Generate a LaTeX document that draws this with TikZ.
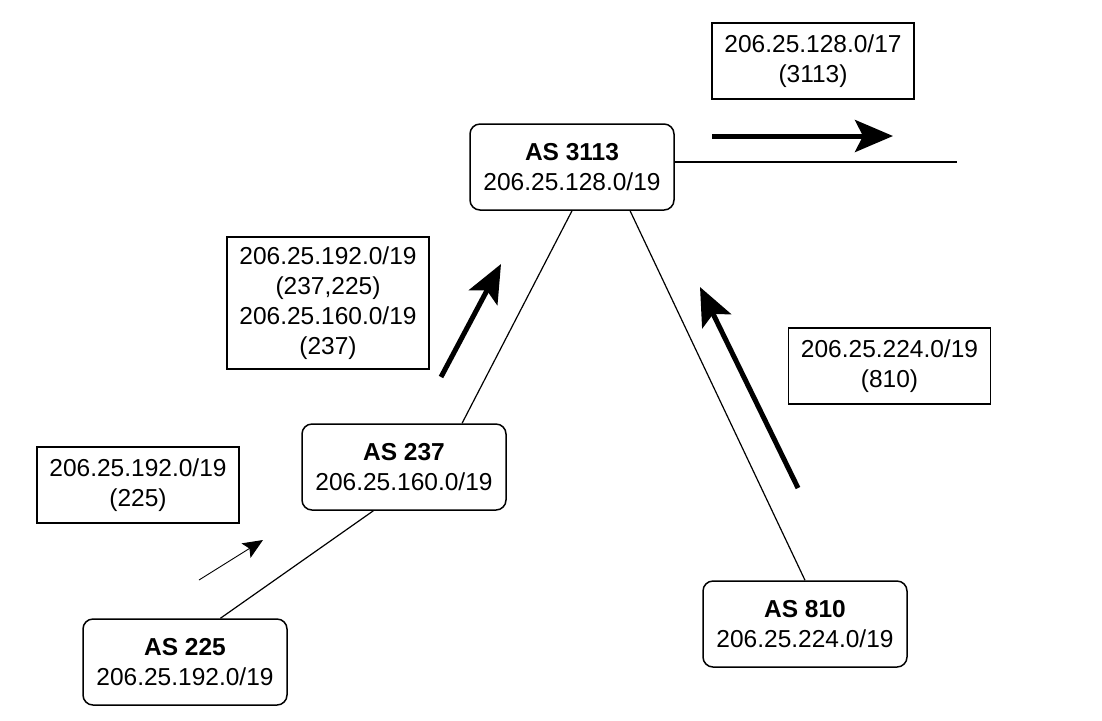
\documentclass[tikz,border=0pt]{standalone}
\usepackage{fontspec}
\setmainfont{Liberation Sans}
\usetikzlibrary{arrows.meta}

\tikzset{
  asbox/.style={draw, line width=0.75pt, rounded corners=5pt, align=center,
    minimum width=102pt, minimum height=43pt, inner sep=0pt},
  prefixbox/.style={draw, line width=0.75pt, align=center,
    minimum width=101pt, minimum height=38pt, inner sep=0pt},
  link/.style={line width=0.6pt},
  advert/.style={line width=2.5pt, -{Stealth[length=19pt,width=16pt,inset=4pt]}},
  smalladvert/.style={line width=0.45pt, -{Stealth[length=10pt,width=8.5pt,inset=2pt]}}
}

\begin{document}
\begin{tikzpicture}[x=0.5pt, y=-0.5pt, font=\fontsize{12.25}{15}\selectfont]
            \useasboundingbox (0,0) rectangle (1102,720);

            % AS boxes
            \node[asbox] (as3113) at (572,167) {\textbf{AS 3113}\\206.25.128.0/19};
            \node[asbox] (as237) at (404,467) {\textbf{AS 237}\\206.25.160.0/19};
            \node[asbox] (as225) at (185,662) {\textbf{AS 225}\\206.25.192.0/19};
            \node[asbox] (as810) at (805,624) {\textbf{AS 810}\\206.25.224.0/19};

            % Advertised prefixes
            \node[prefixbox] (adv3113) at (813,61) {206.25.128.0/17\\(3113)};
            \node[prefixbox, minimum height=66pt] (adv237) at (328,303) {206.25.192.0/19\\(237,225)\\206.25.160.0/19\\(237)};
            \node[prefixbox] (adv225) at (138,485) {206.25.192.0/19\\(225)};
            \node[prefixbox] (adv810) at (889.5,366) {206.25.224.0/19\\(810)};

            % Links
            \coordinate (upstream) at (957,162);
            \draw[link] (as3113.east |- upstream) -- (upstream);
            \draw[link] (as3113.south) -- (as237.37);
            \draw[link] (as3113.-37) -- (as810.north);
            \draw[link] (as237.235) -- (as225.51);

            % Direction of announcements
            \coordinate (a1) at (199,580);
            \coordinate (a2) at (263,540);
            \coordinate (b1) at (441,377);
            \coordinate (b2) at (501,264);
            \coordinate (c1) at (798,488);
            \coordinate (c2) at (700,287);
            \coordinate (d1) at (712,136);
            \coordinate (d2) at (893,136);
            \draw[smalladvert] (a1) -- (a2);
            \draw[advert] (b1) -- (b2);
            \draw[advert] (c1) -- (c2);
            \draw[advert] (d1) -- (d2);
        \end{tikzpicture}
\end{document}
